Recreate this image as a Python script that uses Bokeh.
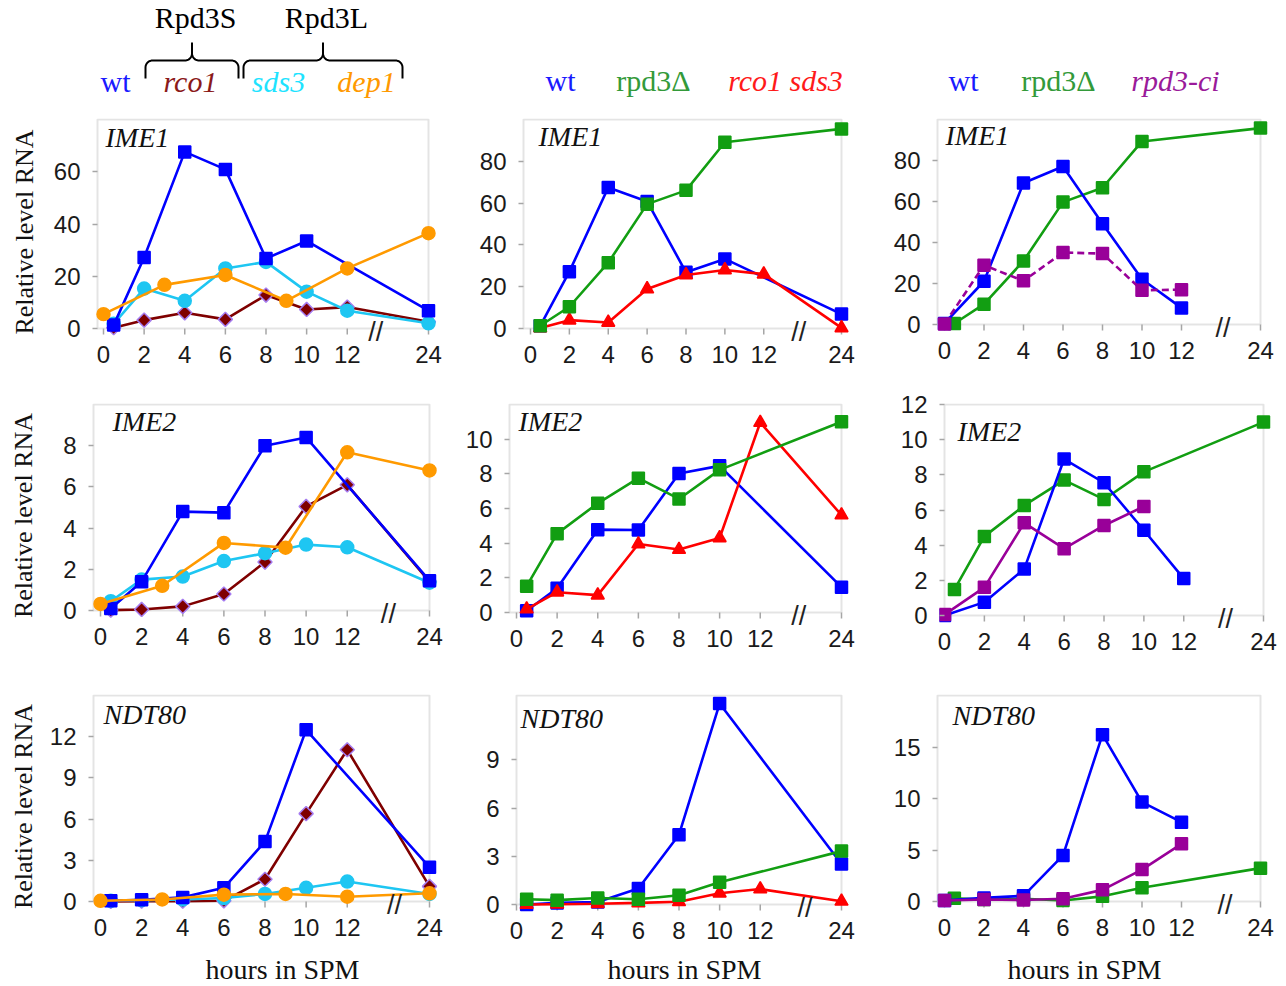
import numpy as np
from bokeh.plotting import figure
from bokeh.layouts import column, row
from bokeh.models import Range1d, FixedTicker, BoxAnnotation
from bokeh.core.properties import value
from bokeh.embed import file_html
from bokeh.resources import INLINE

# ------------------------------------------------------------------ data
tick_hours = [0, 2, 4, 6, 8, 10, 12, 24]
h8 = [0.5, 2, 4, 6, 8, 10, 12, 24]
h7 = [0.5, 2, 4, 6, 8, 10, 24]
h_dep1 = [0, 3, 6, 9, 12, 24]
h_c3 = [0, 2, 4, 6, 8, 10, 12]
h_c3_short = [0, 2, 4, 6, 8, 10]

# column 1 : wt, rco1, sds3, dep1
c1_ime1_wt = [1.3, 27.2, 67.6, 60.9, 26.8, 33.5, 6.8]
c1_ime1_rco1 = [0.3, 3.2, 6.0, 3.5, 12.8, 7.3, 8.2, 2.6]
c1_ime1_sds3 = [1.8, 15.3, 10.6, 23.0, 25.5, 14.1, 6.8, 2.0]
c1_ime1_dep1 = [5.5, 16.7, 20.5, 10.6, 23.0, 36.5]

c1_ime2_wt = [0.1, 1.4, 4.8, 4.75, 8.0, 8.4, 1.45]
c1_ime2_rco1 = [0.02, 0.05, 0.2, 0.8, 2.35, 5.05, 6.1, 1.4]
c1_ime2_sds3 = [0.45, 1.5, 1.65, 2.4, 2.78, 3.2, 3.07, 1.35]
c1_ime2_dep1 = [0.32, 1.2, 3.28, 3.05, 7.68, 6.8]

c1_ndt80_wt = [0.05, 0.12, 0.3, 1.0, 4.36, 12.5, 2.5]
c1_ndt80_rco1 = [0.0, 0.03, 0.02, 0.05, 1.62, 6.4, 11.05, 1.1]
c1_ndt80_sds3 = [0.05, 0.1, 0.15, 0.25, 0.55, 1.0, 1.45, 0.55]
c1_ndt80_dep1 = [0.05, 0.15, 0.5, 0.55, 0.35, 0.6]

# column 2 : wt, rpd3Δ, rco1 sds3
c2_ime1_wt = [1.3, 27.2, 67.5, 60.8, 26.9, 33.3, 6.9]
c2_ime1_rpd3 = [1.3, 10.4, 31.5, 59.5, 66.1, 89.1, 95.5]
c2_ime1_rs = [0.2, 4.0, 2.9, 18.9, 25.6, 28.0, 26.0, 0.3]

c2_ime2_wt = [0.1, 1.4, 4.78, 4.76, 8.02, 8.46, 1.46]
c2_ime2_rpd3 = [1.52, 4.55, 6.3, 7.75, 6.55, 8.23, 11.0]
c2_ime2_rs = [0.2, 1.17, 1.0, 3.95, 3.63, 4.3, 10.96, 5.62]

c2_ndt80_wt = [0.0, 0.1, 0.15, 1.0, 4.34, 12.5, 2.52]
c2_ndt80_rpd3 = [0.33, 0.27, 0.4, 0.33, 0.58, 1.38, 3.32]
c2_ndt80_rs = [0.0, 0.02, 0.05, 0.1, 0.17, 0.7, 0.96, 0.2]

# column 3 : wt, rpd3Δ, rpd3-ci
c3_ime1_wt = [0.5, 21.1, 69.0, 77.1, 49.2, 22.1, 8.1]
c3_ime1_rpd3 = [0.5, 9.9, 31.0, 59.7, 66.7, 89.3, 95.8]
c3_ime1_ci = [0.3, 28.9, 21.3, 35.1, 34.6, 16.7, 17.0]

c3_ime2_wt = [0.0, 0.76, 2.65, 8.9, 7.55, 4.85, 2.1]
c3_ime2_rpd3 = [1.48, 4.5, 6.26, 7.7, 6.6, 8.17, 11.0]
c3_ime2_ci = [0.05, 1.6, 5.27, 3.8, 5.12, 6.2]

c3_ndt80_wt = [0.1, 0.35, 0.55, 4.47, 16.2, 9.65, 7.7]
c3_ndt80_rpd3 = [0.32, 0.2, 0.26, 0.1, 0.5, 1.33, 3.24]
c3_ndt80_ci = [0.1, 0.2, 0.15, 0.26, 1.13, 3.1, 5.6]

genes = ["IME1", "IME2", "NDT80"]
y_max = [[80, 100, 100], [10, 12, 12], [15, 13, 20]]
y_ticks = [[[0, 20, 40, 60], [0, 20, 40, 60, 80], [0, 20, 40, 60, 80]],
           [[0, 2, 4, 6, 8], [0, 2, 4, 6, 8, 10], [0, 2, 4, 6, 8, 10, 12]],
           [[0, 3, 6, 9, 12], [0, 3, 6, 9], [0, 5, 10, 15]]]

# ------------------------------------------------------------------ styles
STYLE = {
    "wt":   dict(color="#0000ff", marker="square", size=12, edge="#0000ff", angle=0.0),
    "rco1": dict(color="#7f0000", marker="square", size=10, edge="#a57cf0", angle=np.pi / 4),
    "sds3": dict(color="#1ec6f2", marker="circle", size=13, edge="#1ec6f2", angle=0.0),
    "dep1": dict(color="#ff9a00", marker="circle", size=13, edge="#ff9a00", angle=0.0),
    "rpd3": dict(color="#129e12", marker="square", size=12, edge="#129e12", angle=0.0),
    "rs":   dict(color="#ff0000", marker="triangle", size=13, edge="#ff0000", angle=0.0),
    "ci":   dict(color="#990099", marker="square", size=12, edge="#990099", angle=0.0),
}

series = {
    (0, 0): [("rco1", h8, c1_ime1_rco1), ("sds3", h8, c1_ime1_sds3), ("wt", h7, c1_ime1_wt), ("dep1", h_dep1, c1_ime1_dep1)],
    (1, 0): [("rco1", h8, c1_ime2_rco1), ("sds3", h8, c1_ime2_sds3), ("wt", h7, c1_ime2_wt), ("dep1", h_dep1, c1_ime2_dep1)],
    (2, 0): [("rco1", h8, c1_ndt80_rco1), ("sds3", h8, c1_ndt80_sds3), ("wt", h7, c1_ndt80_wt), ("dep1", h_dep1, c1_ndt80_dep1)],
    (0, 1): [("wt", h7, c2_ime1_wt), ("rs", h8, c2_ime1_rs), ("rpd3", h7, c2_ime1_rpd3)],
    (1, 1): [("wt", h7, c2_ime2_wt), ("rs", h8, c2_ime2_rs), ("rpd3", h7, c2_ime2_rpd3)],
    (2, 1): [("wt", h7, c2_ndt80_wt), ("rs", h8, c2_ndt80_rs), ("rpd3", h7, c2_ndt80_rpd3)],
    (0, 2): [("rpd3", h7, c3_ime1_rpd3), ("wt", h_c3, c3_ime1_wt), ("ci", h_c3, c3_ime1_ci)],
    (1, 2): [("rpd3", h7, c3_ime2_rpd3), ("wt", h_c3, c3_ime2_wt), ("ci", h_c3_short, c3_ime2_ci)],
    (2, 2): [("rpd3", h7, c3_ndt80_rpd3), ("wt", h_c3, c3_ndt80_wt), ("ci", h_c3, c3_ndt80_ci)],
}
dashed = {(0, 2, "ci")}

# ------------------------------------------------------------------ layout (pixels)
HEADER_H = 104
FOOTER_H = 36
COLS = [(0, 445), (445, 855), (855, 1286)]
ROWS = [(HEADER_H, 380), (380, 675), (675, 950)]
# box_left, x(0h), x(24h), box_top, y(0)
GEOM = {
    (0, 0): (97, 103, 428, 113, 322), (0, 1): (523, 530, 841, 113, 322), (0, 2): (937, 944, 1260, 119, 324),
    (1, 0): (93, 100, 429, 404, 610), (1, 1): (509, 516, 841, 401, 609), (1, 2): (944, 944, 1263, 398, 609),
    (2, 0): (93, 100, 429, 694, 900), (2, 1): (516, 516, 841, 690, 899), (2, 2): (937, 944, 1260, 695, 901),
}
# gene label: left of caps and baseline, relative to the box's top-left corner
GENE_OFF = {
    (0, 0): (8, 30), (0, 1): (15, 29), (0, 2): (8, 28),
    (1, 0): (19, 29), (1, 1): (9, 29), (1, 2): (13, 39),
    (2, 0): (10, 31), (2, 1): (4, 35), (2, 2): (15, 32),
}
BREAK_AT = {
    (0, 0): 13.4, (0, 1): 13.8, (0, 2): 14.1,
    (1, 0): 14.0, (1, 1): 13.9, (1, 2): 14.1,
    (2, 0): 14.3, (2, 1): 14.2, (2, 2): 14.2,
}
YLABEL_STANDOFF = [12, 22, 9]
ML, MR, MT, MB = 5, 8, 1, 17
XTICK_LEN = 6
FRAME_GRAY = "#a6a6a6"
BASE_FIX = 0.42   # baseline correction, in em


def to_pos(hours):
    return [h if h <= 12 else 12 + (h - 12) / 3.0 for h in hours]


def make_panel(r, c):
    bl, x0, x24, bt, y0 = GEOM[(r, c)]
    ymax = y_max[r][c]
    pxh = (x24 - x0) / 16.0
    pxy = (y0 - bt) / float(ymax)
    fl, fr, ft, fb = bl - ML, x24 + MR, bt - MT, y0 + MB
    cx0, cx1 = COLS[c]
    ry0, ry1 = ROWS[r]
    p = figure(title=None, frame_width=fr - fl, frame_height=fb - ft,
               min_border_left=fl - cx0, min_border_right=cx1 - fr,
               min_border_top=ft - ry0, min_border_bottom=ry1 - fb,
               x_range=Range1d((fl - x0) / pxh, (fr - x0) / pxh),
               y_range=Range1d(-(fb - y0) / pxy, (y0 - ft) / pxy),
               toolbar_location=None, output_backend="svg")
    p.outline_line_color = None
    p.grid.visible = False
    p.background_fill_color = "white"
    p.border_fill_color = "white"

    box_left = (bl - x0) / pxh
    p.add_layout(BoxAnnotation(left=box_left, right=16, bottom=0, top=ymax,
                               fill_alpha=0, line_color=FRAME_GRAY, line_width=2,
                               level="underlay"))

    tp = to_pos(tick_hours)
    # x tick marks hanging below the zero line
    p.segment(x0=tp, y0=[0] * len(tp), x1=tp, y1=[-XTICK_LEN / pxy] * len(tp),
              line_color=FRAME_GRAY, line_width=1.5)

    xa = p.xaxis[0]
    xa.ticker = FixedTicker(ticks=tp)
    xa.major_label_overrides = {float(t): str(h) for t, h in zip(tp, tick_hours)}
    xa.major_tick_line_color = None
    xa.major_tick_in = 0
    xa.major_tick_out = 0
    xa.major_label_standoff = 0
    ya = p.yaxis[0]
    ya.ticker = FixedTicker(ticks=y_ticks[r][c])
    ya.major_tick_line_color = FRAME_GRAY
    ya.major_tick_in = ML
    ya.major_tick_out = 0
    ya.major_label_standoff = 12
    for ax in (xa, ya):
        ax.axis_line_color = None
        ax.major_tick_line_width = 1.5
        ax.minor_tick_line_color = None
        ax.major_label_text_font = "Liberation Sans"
        ax.major_label_text_font_size = "24px"
        ax.major_label_text_color = "#1a1a1a"
    if c == 0:
        ya.axis_label = "Relative level RNA"
        ya.axis_label_text_font = "Liberation Serif"
        ya.axis_label_text_font_style = "normal"
        ya.axis_label_text_font_size = "26px"
        ya.axis_label_text_color = "#111111"
        ya.axis_label_standoff = YLABEL_STANDOFF[r]

    for name, hrs, vals in series[(r, c)]:
        st = STYLE[name]
        xs = to_pos(hrs)
        dash = "7 4" if (r, c, name) in dashed else "solid"
        p.line(xs, vals, line_color=st["color"], line_width=2.6, line_dash=dash)
        p.scatter(xs, vals, marker=st["marker"], size=st["size"], angle=st["angle"],
                  fill_color=st["color"], line_color=st["edge"], line_width=1.5)

    dx, dy = GENE_OFF[(r, c)]
    p.text(x=[box_left], y=[ymax], text=[genes[r]], x_offset=dx,
           y_offset=dy - BASE_FIX * 28,
           text_font=value("Liberation Serif"), text_font_style="italic",
           text_font_size="28px", text_color="#111111",
           text_align="left", text_baseline="alphabetic")
    p.text(x=[BREAK_AT[(r, c)]], y=[0], text=["//"], y_offset=3,
           text_font=value("Liberation Sans"), text_font_size="27px",
           text_color="#222222", text_align="center", text_baseline="middle")
    return p


def blank(h):
    f = figure(title=None, width=1286, height=h, x_range=Range1d(0, 1286), y_range=Range1d(h, 0),
               x_axis_type=None, y_axis_type=None, toolbar_location=None,
               output_backend="svg", min_border_left=0, min_border_right=0,
               min_border_top=0, min_border_bottom=0)
    f.outline_line_color = None
    f.grid.visible = False
    return f


def brace(xl, xr, y_end=78, y_bar=60, y_tip=42, rad=7):
    xm = (xl + xr) / 2.0
    t = np.linspace(0, np.pi / 2, 10)
    xs = [xl]
    ys = [y_end]
    xs += list(xl + rad - rad * np.cos(t))
    ys += list(y_bar + rad - rad * np.sin(t))
    xs += list(xm - rad + rad * np.sin(t))
    ys += list(y_bar - rad + rad * np.cos(t))
    xs += [xm]
    ys += [y_tip]
    rx = [2 * xm - x for x in xs[::-1]]
    ry = ys[::-1]
    return xs + rx, ys + ry


# ------------------------------------------------------------------ header
hdr = blank(HEADER_H)
for (xl, xr) in [(145, 238), (243, 402)]:
    bx, by = brace(xl, xr)
    hdr.line(bx, by, line_color="black", line_width=2)

serif = value("Liberation Serif")
fix30 = BASE_FIX * 30
hdr.text(x=[195, 326], y=[30 - fix30, 30 - fix30], text=["Rpd3S", "Rpd3L"], text_font=serif,
         text_font_size="30px", text_color="black", text_align="center",
         text_baseline="alphabetic")

head_upright = [(115, 94, "wt", "#1a1aff"), (560, 93, "wt", "#1a1aff"), (963, 93, "wt", "#1a1aff"),
                (653, 93, "rpd3\u0394", "#339a3a"), (1058, 93, "rpd3\u0394", "#339a3a")]
head_italic = [(190, 94, "rco1", "#8b1a1a"), (278, 94, "sds3", "#1ee3ff"), (366, 94, "dep1", "#ff9900"),
               (785, 93, "rco1 sds3", "#ff1a1a"), (1175, 93, "rpd3-ci", "#9a1a9a")]
for items, style in [(head_upright, "normal"), (head_italic, "italic")]:
    hdr.text(x=[i[0] for i in items], y=[i[1] - fix30 for i in items], text=[i[2] for i in items],
             text_color=[i[3] for i in items], text_font=serif, text_font_style=style,
             text_font_size="30px", text_align="center", text_baseline="alphabetic")

# ------------------------------------------------------------------ footer
ftr = blank(FOOTER_H)
ftr.text(x=[282, 684, 1084], y=[31 - BASE_FIX * 28] * 3, text=["hours in SPM"] * 3, text_font=serif,
         text_font_size="28px", text_color="#111111", text_align="center",
         text_baseline="alphabetic")

rows = [row(*[make_panel(r, c) for c in range(3)]) for r in range(3)]
layout = column(hdr, *rows, ftr)

open("out.html", "w").write(file_html(layout, INLINE))
